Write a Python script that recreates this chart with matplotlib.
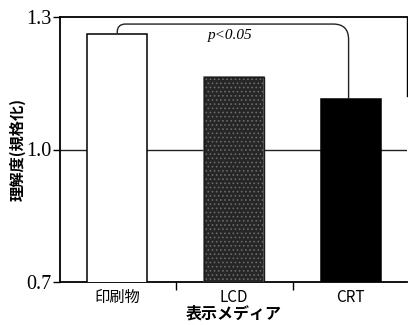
import matplotlib
matplotlib.use("Agg")
import matplotlib.pyplot as plt
from matplotlib.path import Path
from matplotlib.patches import PathPatch

plt.rcParams['font.family'] = ['Noto Sans CJK JP', 'DejaVu Sans']
plt.rcParams['hatch.linewidth'] = 0.7

# data
media = ['印刷物', 'LCD', 'CRT']
understanding = [1.262, 1.165, 1.115]
y_ticks = [0.7, 1.0, 1.3]
y_tick_labels = ['0.7', '1.0', '1.3']
sig_label = 'p<0.05'

fig = plt.figure(figsize=(4.08, 3.25), dpi=100)
ax = fig.add_axes([60 / 408, 1 - 282 / 325, 347 / 408, 265 / 325])

x = list(range(len(media)))
faces = ['white', '#262626', 'black']
bars = ax.bar(x, understanding, width=0.51, color=faces, edgecolor='black',
              linewidth=1.1, zorder=3)
# stippled middle bar
bars[1].set_hatch('....')
bars[1].set_edgecolor('#6a6a6a')
ax.bar(x[1], understanding[1], width=0.51, facecolor='none', edgecolor='#1a1a1a',
       linewidth=1.0, zorder=4)

# reference line at 1.0
ax.axhline(1.0, color='#222222', linewidth=1.0, zorder=1)

ax.set_xlim(-0.49, 2.48)
ax.set_ylim(0.7, 1.3)

ax.set_yticks(y_ticks)
ax.set_yticklabels(y_tick_labels, family='Liberation Serif', fontsize=14.5)
ax.tick_params(axis='y', direction='out', length=5, width=1.0, pad=1)

ax.set_xticks(x)
ax.set_xticklabels(media, fontsize=11)
ax.tick_params(axis='x', which='major', length=0, pad=5)
ax.set_xticks([0.5, 1.5], minor=True)
ax.tick_params(axis='x', which='minor', direction='out', length=6, width=1.0)

for side in ['left', 'bottom', 'top']:
    ax.spines[side].set_linewidth(1.3)
ax.spines['right'].set_linewidth(1.0)
ax.spines['right'].set_bounds(1.12, 1.3)

ax.set_ylabel('理解度(規格化)', fontsize=11, fontweight='bold')
ax.set_xlabel('表示メディア', fontsize=11.5, fontweight='bold', labelpad=0)
ax.yaxis.set_label_coords(-0.10, 0.5)

# significance bracket between the first and last bars
y_top = 1.284
x0, x1 = x[0], x[2] - 0.02
rx0, ry0 = 0.07, 0.018
rx1, ry1 = 0.13, 0.035
verts = [
    (x0, understanding[0]),
    (x0, y_top - ry0),
    (x0, y_top), (x0 + rx0, y_top),
    (x1 - rx1, y_top),
    (x1, y_top), (x1, y_top - ry1),
    (x1, understanding[2]),
]
codes = [Path.MOVETO, Path.LINETO, Path.CURVE3, Path.CURVE3,
         Path.LINETO, Path.CURVE3, Path.CURVE3, Path.LINETO]
ax.add_patch(PathPatch(Path(verts, codes), facecolor='none',
                       edgecolor='#222222', linewidth=1.0, zorder=5))
ax.text(0.97, 1.257, sig_label, family='Liberation Serif', style='italic',
        fontsize=11, ha='center', va='center')

fig.savefig('out.png', dpi=100)
